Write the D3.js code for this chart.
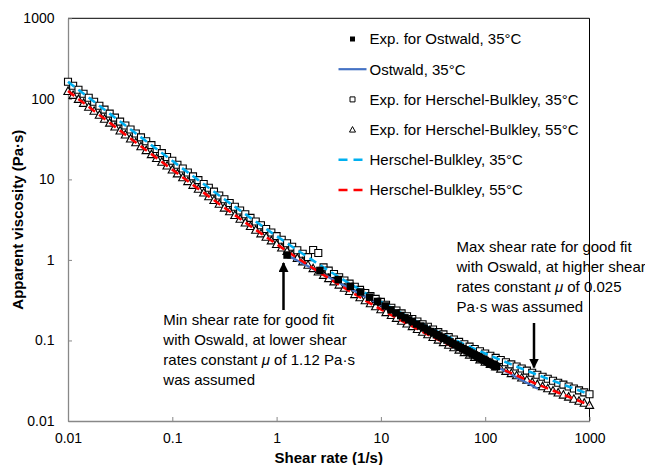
<!DOCTYPE html>
<html><head><meta charset="utf-8">
<script src="https://cdn.jsdelivr.net/npm/d3@7"></script>
<style>
html,body{margin:0;padding:0;background:#fff;}
svg{display:block;font-family:"Liberation Sans",Arial,Helvetica,sans-serif;}
</style></head>
<body>
<svg id="chart" width="645" height="465"></svg>
<script>
// ---------------- data ----------------
const xTicks = [0.01, 0.1, 1, 10, 100, 1000];
const xTickLabels = ["0.01", "0.1", "1", "10", "100", "1000"];
const yTicks = [0.01, 0.1, 1, 10, 100, 1000];
const yTickLabels = ["0.01", "0.1", "1", "10", "100", "1000"];

// shear rates of the Herschel-Bulkley experiments (1/s)
const hbRates = [
  0.01, 0.0112, 0.0126, 0.0141, 0.0158, 0.0178, 0.02, 0.0224, 0.0251, 0.0282, 0.0316, 0.0355, 0.0398, 0.0447, 0.0501, 0.0562, 0.0631, 0.0708, 0.0794, 0.0891,
  0.1, 0.112, 0.126, 0.141, 0.158, 0.178, 0.2, 0.224, 0.251, 0.282, 0.316, 0.355, 0.398, 0.447, 0.501, 0.562, 0.631, 0.708, 0.794, 0.891,
  1, 1.12, 1.26, 1.41, 1.58, 1.78, 2, 2.24, 2.51, 2.82, 3.16, 3.55, 3.98, 4.47, 5.01, 5.62, 6.31, 7.08, 7.94, 8.91,
  10, 11.2, 12.6, 14.1, 15.8, 17.8, 20, 22.4, 25.1, 28.2, 31.6, 35.5, 39.8, 44.7, 50.1, 56.2, 63.1, 70.8, 79.4, 89.1,
  100, 112, 126, 141, 158, 178, 200, 224, 251, 282, 316, 355, 398, 447, 501, 562, 631, 708, 794, 891,
  1000
];
// Exp. for Herschel-Bulkley, 35°C (Pa·s)
const hb35Exp = [
  162.7, 145.1, 129.5, 115.5, 103.1, 92.1, 82.2, 73.4, 65.5, 58.5, 52.2, 46.7, 41.7, 37.2, 33.2, 29.8, 26.6, 23.8, 21.2, 19.0,
  17.0, 15.21, 13.62, 12.18, 10.91, 9.78, 8.76, 7.86, 7.05, 6.32, 5.67, 5.09, 4.58, 4.11, 3.69, 3.33, 3.00, 2.69, 2.42, 2.19,
  1.975, 1.783, 1.611, 1.456, 1.317, 1.194, 1.082, 1.33, 1.22, 0.809, 0.736, 0.670, 0.610, 0.556, 0.508, 0.465, 0.425, 0.389, 0.356, 0.328,
  0.301, 0.277, 0.255, 0.235, 0.217, 0.200, 0.185, 0.172, 0.159, 0.148, 0.137, 0.127, 0.119, 0.110, 0.103, 0.0961, 0.0898, 0.0839, 0.0785, 0.0736,
  0.0690, 0.0647, 0.0607, 0.0571, 0.0537, 0.0505, 0.0475, 0.0448, 0.0422, 0.0398, 0.0375, 0.0354, 0.0335, 0.0316, 0.0299, 0.0283, 0.0268, 0.0253, 0.0240, 0.0227,
  0.0215
];
// Exp. for Herschel-Bulkley, 55°C (Pa·s)
const hb55Exp = [
  124.9, 111.5, 99.5, 88.8, 79.4, 70.8, 63.3, 56.5, 50.5, 45.1, 40.3, 36.0, 32.1, 28.8, 25.7, 23.0, 20.5, 18.4, 16.5, 14.8,
  13.2, 11.83, 10.60, 9.49, 8.52, 7.63, 6.85, 6.15, 5.52, 4.96, 4.45, 4.00, 3.60, 3.24, 2.91, 2.63, 2.36, 2.13, 1.93, 1.74,
  1.570, 1.419, 1.284, 1.162, 1.053, 0.955, 0.867, 0.787, 0.715, 0.650, 0.592, 0.539, 0.492, 0.449, 0.410, 0.375, 0.343, 0.314, 0.289, 0.265,
  0.243, 0.224, 0.206, 0.190, 0.175, 0.162, 0.150, 0.138, 0.128, 0.119, 0.110, 0.102, 0.0950, 0.0883, 0.0821, 0.0766, 0.0713, 0.0665, 0.0622, 0.0581,
  0.0543, 0.0508, 0.0475, 0.0445, 0.0418, 0.0392, 0.0368, 0.0345, 0.0324, 0.0305, 0.0286, 0.0269, 0.0254, 0.0239, 0.0225, 0.0212, 0.0200, 0.0188, 0.0178, 0.0168,
  0.0158
];

// Exp. for Ostwald, 35°C
const ostRates = [1.26, 2.6, 3.9, 5.1, 6.4, 7.8, 9.3, 11, 12.5, 14, 15.5, 17, 18.5, 20, 22, 24, 26, 28, 30, 32, 34, 36, 38, 40,
  43, 46, 49, 52, 55, 58, 61, 64, 67, 70, 73, 76, 79, 82, 85, 88, 91, 94, 97, 100, 104, 108, 112, 116, 120, 124, 128];
const ostExp = [1.15, 0.74, 0.57, 0.47, 0.40, 0.345, 0.305, 0.268, 0.240, 0.220, 0.204, 0.191, 0.180, 0.171, 0.160, 0.151, 0.143, 0.135, 0.129, 0.124, 0.118, 0.114, 0.110, 0.106,
  0.101, 0.096, 0.092, 0.088, 0.085, 0.082, 0.079, 0.0766, 0.0742, 0.0720, 0.0699, 0.0680, 0.0662, 0.0645, 0.0630, 0.0615, 0.0601, 0.0587, 0.0575, 0.0563, 0.0548, 0.0534, 0.0520, 0.0508, 0.0496, 0.0485, 0.0475];

// Ostwald model line, 35°C
const ostFitRates = [1.31, 320];
const ostFit = [1.12, 0.0252];

// Herschel-Bulkley model lines
const fitRates = [0.01, 0.0178, 0.0316, 0.0562, 0.1, 0.178, 0.316, 0.562, 1, 1.78, 3.16, 5.62, 10, 17.8, 31.6, 56.2, 100, 178, 316, 562, 1000];
const hb35Fit = [162.7, 92.1, 52.2, 29.8, 17.0, 9.78, 5.67, 3.33, 1.975, 1.194, 0.736, 0.465, 0.301, 0.200, 0.137, 0.0961, 0.0690, 0.0505, 0.0375, 0.0283, 0.0215];
const hb55Fit = [124.9, 70.8, 40.3, 23.0, 13.2, 7.63, 4.45, 2.63, 1.570, 0.955, 0.592, 0.375, 0.243, 0.162, 0.110, 0.0766, 0.0543, 0.0392, 0.0286, 0.0212, 0.0158];

const legendLabels = ["Exp. for Ostwald, 35°C", "Ostwald, 35°C", "Exp. for Herschel-Bulkley, 35°C",
  "Exp. for Herschel-Bulkley, 55°C", "Herschel-Bulkley, 35°C", "Herschel-Bulkley, 55°C"];

// ---------------- drawing ----------------
const svg = d3.select("#chart");
const L = 68, R = 589.5, T = 18.3, B = 421;
const x = d3.scaleLog().domain([0.01, 1000]).range([L, R]);
const y = d3.scaleLog().domain([0.01, 1000]).range([B, T]);

const zip = (xs, ys) => xs.map((r, i) => [r, ys[i]]);
const line = d3.line().x(d => x(d[0])).y(d => y(d[1])).curve(d3.curveMonotoneX);

// plot border (top / right)
svg.append("path").attr("d", `M${L},${T}H${R}V${B}`).attr("fill", "none").attr("stroke", "#000").attr("stroke-width", 1);

// axes
const gx = svg.append("g").attr("transform", `translate(0,${B})`)
  .call(d3.axisBottom(x).tickValues(xTicks).tickFormat((d, i) => xTickLabels[i]).tickSize(-4).tickSizeOuter(0).tickPadding(12.5));
const gy = svg.append("g").attr("transform", `translate(${L},0)`)
  .call(d3.axisLeft(y).tickValues(yTicks).tickFormat((d, i) => yTickLabels[i]).tickSize(-4).tickSizeOuter(0).tickPadding(13.5));
[gx, gy].forEach(g => {
  g.select(".domain").attr("stroke", "#888").attr("stroke-width", 1.3);
  g.selectAll(".tick line").attr("stroke", "#888").attr("stroke-width", 1);
  g.selectAll(".tick text").attr("fill", "#000").attr("font-size", 14).attr("font-family", '"Liberation Sans",Arial,sans-serif');
});

// axis titles
svg.append("text").attr("x", (L + R) / 2).attr("y", 463).attr("text-anchor", "middle")
  .attr("font-size", 15).attr("font-weight", "bold").text("Shear rate (1/s)");
svg.append("text").attr("transform", `translate(23,${(T + B) / 2}) rotate(-90)`).attr("text-anchor", "middle")
  .attr("font-size", 15).attr("font-weight", "bold").text("Apparent viscosity (Pa·s)");

const plot = svg.append("g");
const sq = s => `M${-s/2},${-s/2}h${s}v${s}h${-s}Z`;
const tri = s => `M0,${-s*0.55}L${s*0.55},${s*0.45}L${-s*0.55},${s*0.45}Z`;

// Exp. HB 35 (open squares)
plot.append("g").selectAll("path").data(zip(hbRates, hb35Exp)).join("path")
  .attr("transform", d => `translate(${x(d[0])},${y(d[1])})`).attr("d", sq(7))
  .attr("fill", "#fff").attr("stroke", "#000").attr("stroke-width", 1.1);
// Exp. HB 55 (open triangles)
plot.append("g").selectAll("path").data(zip(hbRates, hb55Exp)).join("path")
  .attr("transform", d => `translate(${x(d[0])},${y(d[1])})`).attr("d", tri(7.5))
  .attr("fill", "#fff").attr("stroke", "#000").attr("stroke-width", 1.1);
// Ostwald line
plot.append("path").datum(zip(ostFitRates, ostFit)).attr("d", d3.line().x(d => x(d[0])).y(d => y(d[1])))
  .attr("fill", "none").attr("stroke", "#4472C4").attr("stroke-width", 2.2);
// HB fits
plot.append("path").datum(zip(fitRates, hb35Fit)).attr("d", line)
  .attr("fill", "none").attr("stroke", "#00B0F0").attr("stroke-width", 2.6).attr("stroke-dasharray", "8,5");
plot.append("path").datum(zip(fitRates, hb55Fit)).attr("d", line)
  .attr("fill", "none").attr("stroke", "#FF0000").attr("stroke-width", 2.6).attr("stroke-dasharray", "8,5");
// Exp. for Ostwald (filled squares)
plot.append("g").selectAll("path").data(zip(ostRates, ostExp)).join("path")
  .attr("transform", d => `translate(${x(d[0])},${y(d[1])})`).attr("d", sq(7.5)).attr("fill", "#000");

// legend
const lg = svg.append("g");
const rowY = i => 39 + i * 30.2;
const lx0 = 338.5, lx1 = 366.5, mx = 352.5, tx = 369.5;
legendLabels.forEach((t, i) => {
  lg.append("text").attr("x", tx).attr("y", rowY(i)).attr("dy", "0.36em").attr("font-size", 15).text(t);
});
lg.append("path").attr("transform", `translate(${mx},${rowY(0)})`).attr("d", sq(5)).attr("fill", "#000");
lg.append("line").attr("x1", lx0).attr("x2", lx1).attr("y1", rowY(1)).attr("y2", rowY(1)).attr("stroke", "#4472C4").attr("stroke-width", 2.2);
lg.append("path").attr("transform", `translate(${mx},${rowY(2)})`).attr("d", sq(5)).attr("fill", "#fff").attr("stroke", "#000").attr("stroke-width", 1);
lg.append("path").attr("transform", `translate(${mx},${rowY(3)})`).attr("d", tri(5.5)).attr("fill", "#fff").attr("stroke", "#000").attr("stroke-width", 1);
lg.append("line").attr("x1", lx0).attr("x2", lx1).attr("y1", rowY(4)).attr("y2", rowY(4)).attr("stroke", "#00B0F0").attr("stroke-width", 2.6).attr("stroke-dasharray", "9,6");
lg.append("line").attr("x1", lx0).attr("x2", lx1).attr("y1", rowY(5)).attr("y2", rowY(5)).attr("stroke", "#FF0000").attr("stroke-width", 2.6).attr("stroke-dasharray", "9,6");

// annotations
const ann1 = ["Min shear rate for good fit", "with Oswald, at lower shear", "rates constant |μ| of 1.12 Pa·s", "was assumed"];
const ann2 = ["Max shear rate for good fit", "with Oswald, at higher shear", "rates constant |μ| of 0.025", "Pa·s was assumed"];
function annot(lines, x0, y0) {
  lines.forEach((s, i) => {
    const t = svg.append("text").attr("x", x0).attr("y", y0 + i * 20).attr("font-size", 15);
    s.split("|").forEach((part, k) => {
      const ts = t.append("tspan").text(part);
      if (k === 1) ts.attr("font-style", "italic");
    });
  });
}
annot(ann1, 163.3, 325);
annot(ann2, 456.5, 251.5);

svg.append("defs").append("marker").attr("id", "ah").attr("viewBox", "0 0 10 10").attr("refX", 9).attr("refY", 5)
  .attr("markerWidth", 4).attr("markerHeight", 4).attr("orient", "auto-start-reverse").attr("markerUnits", "strokeWidth")
  .append("path").attr("d", "M0,0L10,5L0,10Z").attr("fill", "#000");
svg.append("line").attr("x1", 283.5).attr("x2", 283.5).attr("y1", 310).attr("y2", 263)
  .attr("stroke", "#000").attr("stroke-width", 2.5).attr("marker-end", "url(#ah)");
svg.append("line").attr("x1", 534).attr("x2", 534).attr("y1", 323).attr("y2", 367.5)
  .attr("stroke", "#000").attr("stroke-width", 2.5).attr("marker-end", "url(#ah)");
</script>
</body></html>
